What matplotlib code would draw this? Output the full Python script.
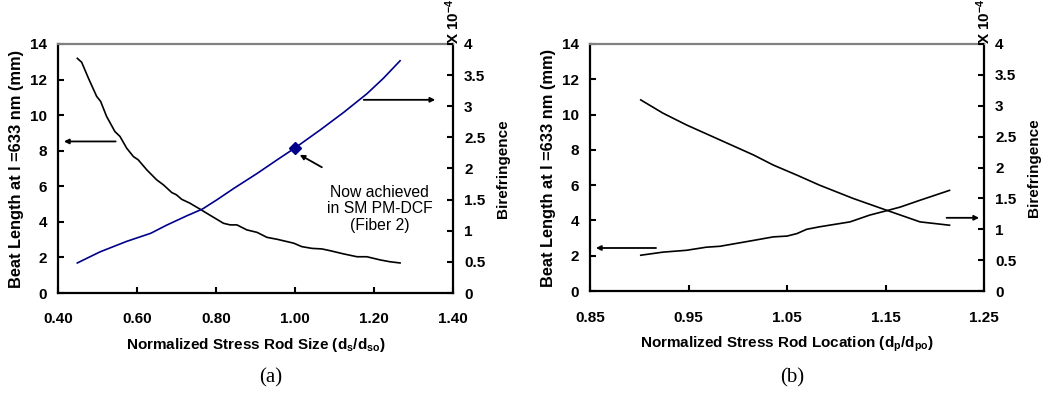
import matplotlib
matplotlib.use("Agg")
import matplotlib.pyplot as plt

plt.rcParams['font.family'] = ['Liberation Sans', 'DejaVu Sans']
plt.rcParams['mathtext.fontset'] = 'custom'
plt.rcParams['mathtext.rm'] = 'Liberation Sans:bold'
plt.rcParams['mathtext.it'] = 'Liberation Sans:bold'
plt.rcParams['mathtext.bf'] = 'Liberation Sans:bold'

# ---- Panel (a) data ----
a_beat_x = [0.449, 0.46, 0.477, 0.498, 0.508, 0.523, 0.544, 0.557, 0.574, 0.591, 0.603,
            0.625, 0.650, 0.667, 0.688, 0.70, 0.713, 0.734, 0.760, 0.777, 0.798, 0.819,
            0.836, 0.853, 0.878, 0.904, 0.929, 0.955, 0.98, 0.997, 1.017, 1.043, 1.068,
            1.089, 1.123, 1.157, 1.182, 1.216, 1.24, 1.266]
a_beat_y = [13.19, 12.97, 12.08, 11.05, 10.77, 9.93, 9.08, 8.8, 8.14, 7.67, 7.49,
            6.92, 6.36, 6.08, 5.65, 5.52, 5.27, 5.05, 4.71, 4.48, 4.2, 3.92,
            3.83, 3.83, 3.55, 3.41, 3.13, 3.02, 2.89, 2.8, 2.61, 2.51, 2.48,
            2.38, 2.2, 2.04, 2.04, 1.86, 1.76, 1.69]
a_bir_x = [0.449, 0.506, 0.574, 0.635, 0.675, 0.726, 0.766, 0.803, 0.845, 0.904, 0.955,
           1.0, 1.064, 1.123, 1.182, 1.224, 1.266]
a_bir_y = [0.483, 0.66, 0.83, 0.96, 1.09, 1.24, 1.35, 1.5, 1.68, 1.92, 2.14,
           2.33, 2.62, 2.9, 3.2, 3.45, 3.73]
a_point_x = [1.0]
a_point_y = [2.33]
a_xticks = [0.40, 0.60, 0.80, 1.00, 1.20, 1.40]
a_xticklabels = ['0.40', '0.60', '0.80', '1.00', '1.20', '1.40']

# ---- Panel (b) data ----
b_beat_x = [0.9015, 0.924, 0.948, 0.982, 1.016, 1.036, 1.060, 1.083, 1.117, 1.151, 1.185, 1.215]
b_beat_y = [10.83, 10.08, 9.41, 8.56, 7.71, 7.14, 6.57, 6.0, 5.25, 4.58, 3.92, 3.73]
b_bir_x = [0.9015, 0.924, 0.948, 0.968, 0.982, 1.016, 1.036, 1.05, 1.060, 1.07, 1.083,
           1.114, 1.134, 1.151, 1.165, 1.185, 1.215]
b_bir_y = [0.58, 0.63, 0.66, 0.71, 0.725, 0.82, 0.877, 0.89, 0.93, 1.0, 1.04,
           1.12, 1.23, 1.3, 1.36, 1.47, 1.63]
b_xticks = [0.85, 0.95, 1.05, 1.15, 1.25]
b_xticklabels = ['0.85', '0.95', '1.05', '1.15', '1.25']

left_yticks = [0, 2, 4, 6, 8, 10, 12, 14]
right_yticks = [0, 0.5, 1, 1.5, 2, 2.5, 3, 3.5, 4]
right_yticklabels = ['0', '0.5', '1', '1.5', '2', '2.5', '3', '3.5', '4']

FS = 11

fig = plt.figure(figsize=(10.54, 3.96), dpi=100)

def setup(ax, xlim, xticks, xticklabels, xlabel):
    ax.set_xlim(*xlim)
    ax.set_ylim(0, 14)
    ax.set_xticks(xticks)
    ax.set_xticklabels(xticklabels, fontsize=FS, fontweight='bold')
    ax.set_yticks(left_yticks)
    ax.set_yticklabels([str(v) for v in left_yticks], fontsize=FS, fontweight='bold')
    ax.tick_params(direction='in', length=4, width=1.5, pad=8)
    ax.tick_params(axis='x', pad=14)
    for s in ['left', 'bottom', 'right']:
        ax.spines[s].set_linewidth(1.6)
        ax.spines[s].set_color('black')
    ax.spines['top'].set_color('#808080')
    ax.spines['top'].set_linewidth(1.6)
    ax.set_xlabel(xlabel, fontsize=FS, fontweight='bold', labelpad=7)
    ax.set_ylabel(r'Beat Length at l =633 nm (mm)', fontsize=11.8, fontweight='bold', labelpad=4)
    ax2 = ax.twinx()
    ax2.set_ylim(0, 4)
    ax2.set_yticks(right_yticks)
    ax2.set_yticklabels(right_yticklabels, fontsize=FS, fontweight='bold')
    ax2.tick_params(direction='in', length=4, width=1.5, pad=8)
    for s in ax2.spines.values():
        s.set_visible(False)
    ax2.set_ylabel('Birefringence', fontsize=FS, fontweight='bold', labelpad=8)
    return ax2

arrow_kw = dict(arrowstyle='-|>', color='black', lw=1.3, mutation_scale=7, shrinkA=0, shrinkB=0)

# Panel (a)
axa = fig.add_axes([0.055, 0.260, 0.3748, 0.629])
axa2 = setup(axa, (0.40, 1.40), a_xticks, a_xticklabels,
             r'Normalized Stress Rod Size (d$_{\rm s}$/d$_{\rm so}$)')
axa.plot(a_beat_x, a_beat_y, color='black', lw=1.2)
axa2.plot(a_bir_x, a_bir_y, color='#00008B', lw=1.2)
axa2.plot(a_point_x, a_point_y, marker='D', color='#00008B', ms=6, ls='none')
axa.annotate('', xy=(0.415, 8.52), xytext=(0.546, 8.52), arrowprops=arrow_kw)
axa.annotate('', xy=(1.355, 10.86), xytext=(1.174, 10.86), arrowprops=arrow_kw)
axa2.annotate('', xy=(1.012, 2.22), xytext=(1.068, 2.02), arrowprops=arrow_kw)
axa2.text(1.215, 1.35, 'Now achieved\nin SM PM-DCF\n(Fiber 2)', ha='center', va='center',
          fontsize=11.3, linespacing=1.1)
axa2.text(1.0, 1.0, r'X 10$^{-4}$', transform=axa2.transAxes, rotation=90,
          ha='center', va='bottom', fontsize=FS, fontweight='bold')
fig.text(271 / 1054, 1 - 378 / 396, '(a)', ha='center', va='center',
         fontsize=15, family='Liberation Serif')

# Panel (b)
axb = fig.add_axes([0.5598, 0.265, 0.3738, 0.624])
axb2 = setup(axb, (0.85, 1.25), b_xticks, b_xticklabels,
             r'Normalized Stress Rod Location (d$_{\rm p}$/d$_{\rm po}$)')
axb.plot(b_beat_x, b_beat_y, color='black', lw=1.2)
axb2.plot(b_bir_x, b_bir_y, color='black', lw=1.2)
axb.annotate('', xy=(0.856, 2.44), xytext=(0.917, 2.44), arrowprops=arrow_kw)
axb.annotate('', xy=(1.245, 4.15), xytext=(1.212, 4.15), arrowprops=arrow_kw)
axb2.text(1.0, 1.0, r'X 10$^{-4}$', transform=axb2.transAxes, rotation=90,
          ha='center', va='bottom', fontsize=FS, fontweight='bold')
fig.text(792 / 1054, 1 - 378 / 396, '(b)', ha='center', va='center',
         fontsize=15, family='Liberation Serif')

fig.savefig('out.png', dpi=100)
